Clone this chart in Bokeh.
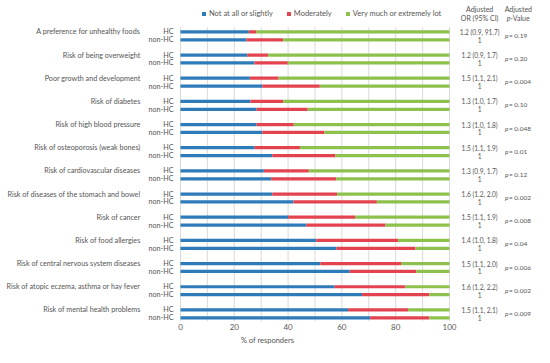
from bokeh.plotting import figure
from bokeh.models import ColumnDataSource, LabelSet, Label, Range1d, FixedTicker
from bokeh.core.properties import value
from bokeh.embed import file_html
from bokeh.resources import INLINE

groups = [
    "A preference for unhealthy foods",
    "Risk of being overweight",
    "Poor growth and development",
    "Risk of diabetes",
    "Risk of high blood pressure",
    "Risk of osteoporosis (weak bones)",
    "Risk of cardiovascular diseases",
    "Risk of diseases of the stomach and bowel",
    "Risk of cancer",
    "Risk of food allergies",
    "Risk of central nervous system diseases",
    "Risk of atopic eczema, asthma or hay fever",
    "Risk of mental health problems",
]
subgroups = ["HC", "non-HC"]
series_names = ["Not at all or slightly", "Moderately", "Very much or extremely lot"]

hc_not = [25.4, 24.8, 25.8, 26.0, 28.3, 27.6, 31.0, 34.1, 40.0, 50.5, 52.0, 57.3, 62.3]
hc_mod = [2.9, 7.8, 10.7, 12.2, 13.8, 16.8, 16.7, 24.1, 24.9, 30.4, 30.0, 26.3, 22.3]
hc_very = [71.7, 67.4, 63.5, 61.8, 57.9, 55.6, 52.3, 41.8, 35.1, 19.1, 18.0, 16.4, 15.4]

non_not = [24.5, 27.5, 30.4, 28.3, 30.4, 34.1, 33.7, 42.0, 46.8, 58.0, 62.9, 67.5, 70.5]
non_mod = [13.7, 12.4, 21.4, 19.0, 23.1, 23.5, 24.2, 31.0, 29.4, 29.4, 24.8, 25.0, 22.0]
non_very = [61.8, 60.1, 48.2, 52.7, 46.5, 42.4, 42.1, 27.0, 23.8, 12.6, 12.3, 7.5, 7.5]

odds_ratios = ["1.2 (0.9, 91.7)", "1.2 (0.9, 1.7)", "1.5 (1.1, 2.1)", "1.3 (1.0, 1.7)",
               "1.3 (1.0, 1.8)", "1.5 (1.1, 1.9)", "1.3 (0.9, 1.7)", "1.6 (1.2, 2.0)",
               "1.5 (1.1, 1.9)", "1.4 (1.0, 1.8)", "1.5 (1.1, 2.0)", "1.6 (1.2, 2.2)",
               "1.5 (1.1, 2.1)"]
reference_or = "1"
p_values = ["0.19", "0.20", "0.004", "0.10", "0.048", "0.01", "0.12", "0.002",
            "0.008", "0.04", "0.006", "0.002", "0.009"]

x_ticks = [0, 20, 40, 60, 80, 100]
grid_ticks = list(range(0, 101, 10))

colors = ["#2E7BBA", "#E2434F", "#8DC04D"]
FONT = "Lato"
TXT = "#555555"
SUB_OFF = 0.34
N = len(groups)

# rows
ys, nots, mods, verys, subs, ors = [], [], [], [], [], []
for i in range(N):
    ys += [i, i + SUB_OFF]
    nots += [hc_not[i], non_not[i]]
    mods += [hc_mod[i], non_mod[i]]
    verys += [hc_very[i], non_very[i]]
    subs += subgroups
    ors += [odds_ratios[i], reference_or]

src = ColumnDataSource(dict(y=ys, n=nots, m=mods, v=verys, sub=subs, orr=ors))

Y_TOP, Y_BOT = -0.2, N - 0.5
p = figure(width=534, height=347, output_backend="svg", toolbar_location=None,
           x_range=Range1d(-66.9, 131.6), y_range=Range1d(Y_BOT, -1.355),
           y_axis_location=None,
           min_border_left=0, min_border_right=0, min_border_top=0, min_border_bottom=23)
p.outline_line_color = None
p.background_fill_color = None
p.border_fill_color = "white"
p.xgrid.visible = False
p.ygrid.visible = False

# grid lines only across the bar area
p.segment(x0=grid_ticks, x1=grid_ticks, y0=[Y_TOP] * len(grid_ticks), y1=[Y_BOT] * len(grid_ticks),
          line_color="#d9d9d9", line_width=1)

p.hbar_stack(["n", "m", "v"], y="y", height=0.14, color=colors, source=src,
             legend_label=series_names, line_width=0)

ax = p.xaxis[0]
ax.ticker = FixedTicker(ticks=x_ticks)
ax.bounds = (0, 100)
ax.axis_line_color = None
ax.major_tick_line_color = None
ax.minor_tick_line_color = None
ax.major_tick_out = 0
ax.major_tick_in = 0
ax.minor_tick_out = 0
ax.major_label_text_font = FONT
ax.major_label_text_font_size = "8px"
ax.major_label_text_color = "#595959"
ax.major_label_standoff = 2
ax.axis_label = "% of responders"
ax.axis_label_text_font = FONT
ax.axis_label_text_font_size = "7.5px"
ax.axis_label_text_font_style = "normal"
ax.axis_label_text_color = TXT
ax.axis_label_standoff = 3

lg = p.legend[0]
lg.orientation = "horizontal"
lg.location = (201, 303)
lg.label_text_font = FONT
lg.label_text_font_size = "7.5px"
lg.label_text_color = TXT
lg.glyph_width = 5
lg.glyph_height = 5
lg.label_height = 8
lg.label_standoff = 3
lg.spacing = 13
lg.padding = 2
lg.margin = 0
lg.border_line_color = None
lg.background_fill_alpha = 0

LS = dict(text_baseline="middle", text_font=value(FONT), text_color=TXT)
LB = dict(text_baseline="middle", text_font=FONT, text_color=TXT)

gsrc = ColumnDataSource(dict(y=list(range(N)), t=groups))
p.add_layout(LabelSet(x=-14.9, y="y", text="t", source=gsrc, text_align="right",
                      text_font_size="7.2px", **LS))
p.add_layout(LabelSet(x=-2.6, y="y", text="sub", source=src, text_align="right",
                      text_font_size="7.2px", **LS))
OR_X = 111.2
P_X = 120.6
p.add_layout(LabelSet(x=OR_X, y="y", text="orr", source=src, text_align="center",
                      text_font_size="6.6px", **LS))
psrc = ColumnDataSource(dict(y=[i + 0.15 for i in range(N)],
                             pp=["p"] * N,
                             t=["= " + v for v in p_values]))
p.add_layout(LabelSet(x=P_X, y="y", text="pp", source=psrc, text_align="left",
                      text_font_size="6.5px", text_font_style="italic", **LS))
p.add_layout(LabelSet(x=P_X, y="y", x_offset=4, text="t", source=psrc, text_align="left",
                      text_font_size="6.5px", **LS))

# column headers
H1, H2 = -0.98, -0.615
for txt, yy in [("Adjusted", H1), ("OR (95% CI)", H2)]:
    p.add_layout(Label(x=OR_X, y=yy, text=txt, text_align="center", text_font_size="7px", **LB))
PH_X = 125.6
p.add_layout(Label(x=PH_X, y=H1, text="Adjusted", text_align="center", text_font_size="7px", **LB))
p.add_layout(Label(x=PH_X, y=H2, x_offset=-8, text="p", text_align="right",
                   text_font_size="7px", text_font_style="italic", **LB))
p.add_layout(Label(x=PH_X, y=H2, x_offset=-8, text="-Value", text_align="left",
                   text_font_size="7px", **LB))

open("out.html", "w").write(file_html(p, INLINE))
